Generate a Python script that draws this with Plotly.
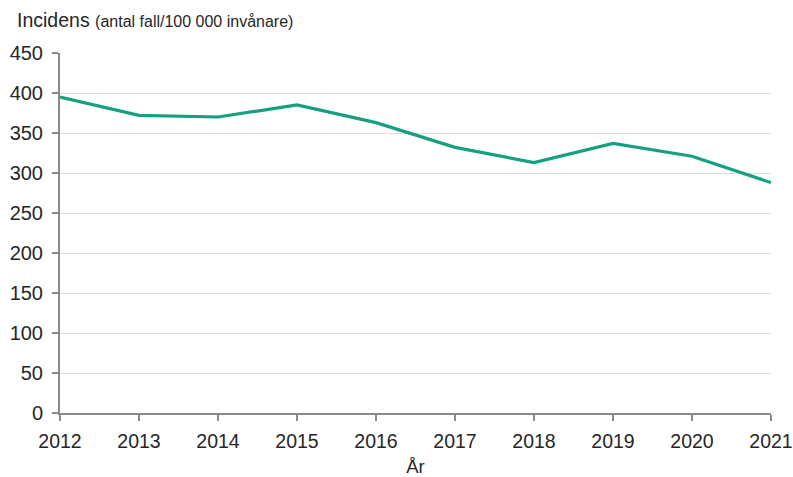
import plotly.graph_objects as go

years = [2012, 2013, 2014, 2015, 2016, 2017, 2018, 2019, 2020, 2021]
incidens = [395, 372, 370, 385, 363, 332, 313, 337, 321, 288]
y_ticks = [0, 50, 100, 150, 200, 250, 300, 350, 400, 450]

FONT = "Liberation Sans, Arial, sans-serif"
TXT = "#262626"

W, H = 793, 477
L, R, T, B = 60, 22, 53, 64
pw, ph = W - L - R, H - T - B

fig = go.Figure()
fig.add_trace(go.Scatter(
    x=years, y=incidens, mode="lines",
    line=dict(color="#17a080", width=3.2),
    showlegend=False, hoverinfo="x+y"))

fig.update_layout(
    width=W, height=H,
    margin=dict(l=L, r=R, t=T, b=B, autoexpand=False),
    paper_bgcolor="white", plot_bgcolor="white",
    font=dict(family=FONT, size=18, color=TXT),
)
fig.add_annotation(
    x=(15 - L) / pw, y=(T - 20) / ph + 1, xref="paper", yref="paper",
    xanchor="left", yanchor="middle", showarrow=False,
    text="Incidens <span style='font-size:16px'>(antal fall/100 000 invånare)</span>",
    font=dict(family=FONT, size=19.5, color=TXT))

fig.update_xaxes(
    range=[2012, 2021], tickmode="array", tickvals=years,
    ticktext=[str(y) for y in years],
    showgrid=False, showline=True, linecolor="#8a8a8a", linewidth=2,
    ticks="outside", ticklen=6, tickcolor="#8a8a8a", tickwidth=1.5,
    ticklabelstandoff=4,
    tickfont=dict(size=19.5, color=TXT), automargin=False,
    title=dict(text="År", font=dict(size=18.5, color=TXT), standoff=9),
    zeroline=False)
fig.update_yaxes(
    range=[0, 450], tickmode="array", tickvals=y_ticks,
    showgrid=True, gridcolor="#dcdcdc", gridwidth=1,
    showline=True, linecolor="#8a8a8a", linewidth=2,
    ticks="outside", ticklen=6, tickcolor="#8a8a8a", tickwidth=1.5,
    ticklabelstandoff=5,
    tickfont=dict(size=20, color=TXT), automargin=False, zeroline=False)

fig.write_html(
    "out.html",
    config={"displayModeBar": False},
    post_script="document.body.style.margin='0';document.body.style.overflow='hidden';")
